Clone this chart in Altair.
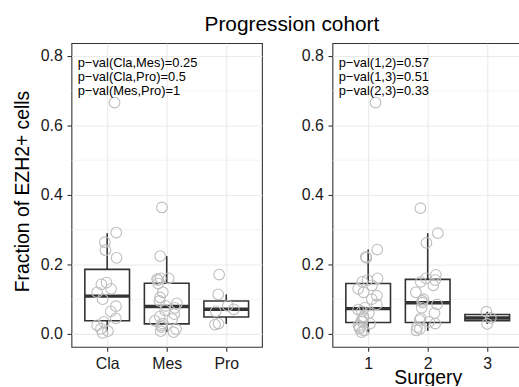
import altair as alt
import pandas as pd

FONT = "Liberation Sans"

# ---------------- data ----------------
subtype_names = ["Cla", "Mes", "Pro"]
cla_vals = [0.666, 0.292, 0.264, 0.241, 0.219, 0.148, 0.143, 0.130, 0.120, 0.100,
            0.080, 0.065, 0.045, 0.035, 0.025, 0.015, 0.008, 0.003]
mes_vals = [0.364, 0.224, 0.160, 0.160, 0.158, 0.155, 0.145, 0.120, 0.105, 0.095,
            0.088, 0.081, 0.075, 0.068, 0.057, 0.050, 0.043, 0.038, 0.030, 0.025,
            0.020, 0.014, 0.008, 0.005]
pro_vals = [0.171, 0.114, 0.081, 0.071, 0.065, 0.030, 0.027]

surgery_names = ["1", "2", "3"]
s1_vals = [0.666, 0.243, 0.222, 0.219, 0.160, 0.155, 0.150, 0.140, 0.130, 0.120,
           0.110, 0.100, 0.085, 0.075, 0.070, 0.065, 0.060, 0.050, 0.045, 0.040,
           0.035, 0.030, 0.025, 0.020, 0.015, 0.010, 0.005]
s2_vals = [0.362, 0.290, 0.262, 0.170, 0.160, 0.155, 0.150, 0.140, 0.120, 0.100,
           0.095, 0.090, 0.085, 0.075, 0.060, 0.045, 0.040, 0.035, 0.030, 0.020,
           0.015, 0.010]
s3_vals = [0.064, 0.046, 0.029]

# box statistics (lower whisker, q1, median, q3, upper whisker)
sub_lower = [0.007, 0.005, 0.029]
sub_q1 = [0.038, 0.029, 0.049]
sub_median = [0.109, 0.079, 0.071]
sub_q3 = [0.186, 0.146, 0.095]
sub_upper = [0.290, 0.224, 0.114]

surg_lower = [0.005, 0.009, 0.029]
surg_q1 = [0.033, 0.033, 0.038]
surg_median = [0.073, 0.090, 0.046]
surg_q3 = [0.145, 0.157, 0.056]
surg_upper = [0.243, 0.290, 0.064]

sub_pvals = ["p\u2212val(Cla,Mes)=0.25", "p\u2212val(Cla,Pro)=0.5", "p\u2212val(Mes,Pro)=1"]
surg_pvals = ["p\u2212val(1,2)=0.57", "p\u2212val(1,3)=0.51", "p\u2212val(2,3)=0.33"]

y_ticks = [0.0, 0.2, 0.4, 0.6, 0.8]
y_minor = [0.1, 0.3, 0.5, 0.7]

title_text = "Progression cohort"
y_title = "Fraction of EZH2+ cells"
x_title_right = "Surgery"

# ---------------- styling ----------------
BOX = "#333333"
PT = "#BEBEBE"
GRID = "#EBEBEB"
TXT = "#1A1A1A"
W, H = 192, 306


def panel(names, groups, lower, q1, med, q3, upper, pvals, ytitle, xtitle):
    rows = []
    for gi, vals in enumerate(groups):
        for v in vals:
            rows.append({"pos": gi + 1, "value": v})
    pts = pd.DataFrame(rows)
    pts["i"] = range(len(pts))
    box = pd.DataFrame({"pos": [1, 2, 3], "lower": lower, "q1": q1,
                        "median": med, "q3": q3, "upper": upper})
    minor = pd.DataFrame({"m": y_minor})
    ann = pd.DataFrame({"t": ["\n".join(pvals)]})

    xscale = alt.Scale(domain=[0.4, 3.6], nice=False, zero=False)
    yscale = alt.Scale(domain=[-0.037, 0.837], nice=False, zero=False)
    label_expr = "[" + ",".join("'%s'" % n for n in names) + "][datum.value - 1]"

    xkw = dict(values=[1, 2, 3], labelExpr=label_expr, grid=True, gridColor=GRID,
               gridWidth=1.1, labelFontSize=16, labelPadding=4, tickSize=4.5,
               labelAngle=0, domain=False, tickColor=BOX, tickWidth=1.1,
               labelColor=TXT, labelFont=FONT)
    if xtitle:
        xkw.update(title=xtitle, titleFontSize=19.5, titleFontWeight="normal",
                   titleColor="black", titleFont=FONT, titleBaseline="alphabetic",
                   titleY=36.5)
    xaxis = alt.Axis(**xkw)

    ykw = dict(values=y_ticks, format=".1f", grid=True, gridColor=GRID, gridWidth=1.1,
               labelFontSize=16, labelPadding=4.8, tickSize=4.5, domain=False,
               tickColor=BOX, tickWidth=1.1, labelColor=TXT, labelFont=FONT)
    if ytitle:
        ykw.update(title=ytitle, titleFontSize=19.5, titleFontWeight="normal",
                   titleColor="black", titleFont=FONT, titleBaseline="alphabetic",
                   titleX=-43, titleY=149, titleAngle=270)
    yaxis = alt.Axis(**ykw)

    xt = xtitle if xtitle else None
    yt = ytitle if ytitle else None

    def X(f):
        return alt.X(f, scale=xscale, axis=xaxis, title=xt)

    def Y(f):
        return alt.Y(f, scale=yscale, axis=yaxis, title=yt)

    minor_l = alt.Chart(minor).mark_rule(color=GRID, strokeWidth=0.6).encode(y=Y("m:Q"))
    whisk = alt.Chart(box).mark_rule(color=BOX, strokeWidth=1.6).encode(
        x=X("pos:Q"), y=Y("lower:Q"), y2="upper:Q")
    rect = alt.Chart(box).transform_calculate(
        xa="datum.pos - 0.375", xb="datum.pos + 0.375"
    ).mark_rect(fill="white", stroke=BOX, strokeWidth=1.6).encode(
        x=X("xa:Q"), x2="xb:Q", y=Y("q1:Q"), y2="q3:Q")
    medl = alt.Chart(box).transform_calculate(
        xa="datum.pos - 0.375", xb="datum.pos + 0.375"
    ).mark_rule(color=BOX, strokeWidth=3.4).encode(
        x=X("xa:Q"), x2="xb:Q", y=Y("median:Q"))
    points = alt.Chart(pts).transform_calculate(
        jx="datum.pos + 0.4*(((((sin(datum.i*12.9898 + 1.7)*43758.5453) % 1) + 1) % 1) - 0.5)"
    ).mark_point(shape="circle", filled=False, size=115, color=PT, strokeWidth=1.1,
                 opacity=1).encode(x=X("jx:Q"), y=Y("value:Q"))
    text = alt.Chart(ann).mark_text(align="left", baseline="top", fontSize=13,
                                     lineBreak="\n", lineHeight=14.3, color="black",
                                     font=FONT).encode(
        x=alt.value(6.3), y=alt.value(14), text="t:N")
    return alt.layer(minor_l, whisk, rect, medl, points, text).properties(width=W, height=H)


left = panel(subtype_names, [cla_vals, mes_vals, pro_vals], sub_lower, sub_q1,
             sub_median, sub_q3, sub_upper, sub_pvals, y_title, None)
right = panel(surgery_names, [s1_vals, s2_vals, s3_vals], surg_lower, surg_q1,
              surg_median, surg_q3, surg_upper, surg_pvals, None, x_title_right)

chart = alt.hconcat(left, right, spacing=37).properties(
    title=alt.TitleParams(text=title_text, fontSize=21, fontWeight="normal", font=FONT,
                          color="black", anchor="middle", baseline="alphabetic",
                          offset=-9, dx=24),
    padding={"left": 12, "top": 12, "right": -5, "bottom": -3},
).configure(font=FONT).configure_view(stroke=BOX, strokeWidth=1.1)

chart.save("out.html", embed_options={"renderer": "svg", "actions": False})
